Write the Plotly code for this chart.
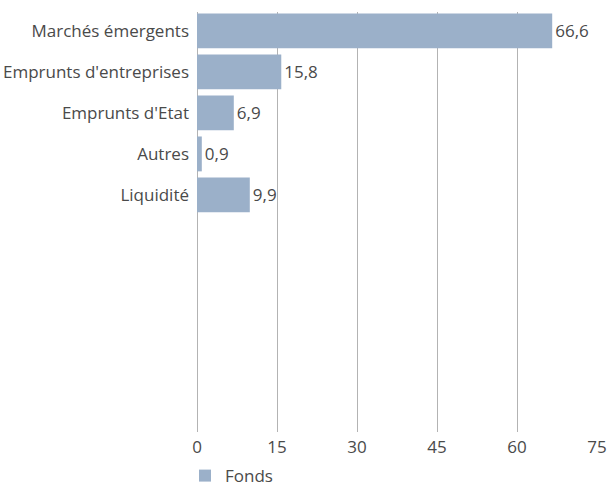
import plotly.graph_objects as go

categories = ["Marchés émergents", "Emprunts d'entreprises", "Emprunts d'Etat", "Autres", "Liquidité"]
values = [66.6, 15.8, 6.9, 0.9, 9.9]
labels = ["66,6", "15,8", "6,9", "0,9", "9,9"]
series_name = "Fonds"
x_ticks = [0, 15, 30, 45, 60, 75]

color = "#9bb0c9"
font = "'Open Sans', sans-serif"
txt = "#4a4a4a"
fs = 17

fig = go.Figure()
fig.add_trace(go.Bar(
    y=categories, x=values, orientation="h", name=series_name,
    marker=dict(color=color, line=dict(width=0)),
    text=labels, textposition="outside", cliponaxis=False,
    textfont=dict(size=fs, color=txt, family=font),
    width=0.85,
))

fig.update_layout(
    width=610, height=486,
    margin=dict(l=197, r=13, t=12, b=54, autoexpand=False),
    paper_bgcolor="white", plot_bgcolor="white",
    font=dict(family=font, size=fs, color=txt),
    showlegend=True,
    legend=dict(orientation="h", x=-0.03, y=-0.062, xanchor="left", yanchor="top",
                font=dict(size=fs, color=txt), itemwidth=30),
    bargap=0.15,
)
fig.update_xaxes(
    range=[0, 75], tickvals=x_ticks, ticktext=[str(t) for t in x_ticks],
    showgrid=True, gridcolor="#b3b3b3", gridwidth=1,
    zeroline=True, zerolinecolor="#b3b3b3", zerolinewidth=1,
    showline=False, ticks="", ticklabelstandoff=3, automargin=False,
    tickfont=dict(size=fs, color=txt),
)
fig.update_yaxes(
    categoryorder="array", categoryarray=categories,
    range=[9.78, -0.46], showgrid=False, zeroline=False, showline=False, automargin=False,
    ticks="", ticklabelstandoff=7, tickfont=dict(size=fs, color=txt),
)

fig.write_html("out.html")
